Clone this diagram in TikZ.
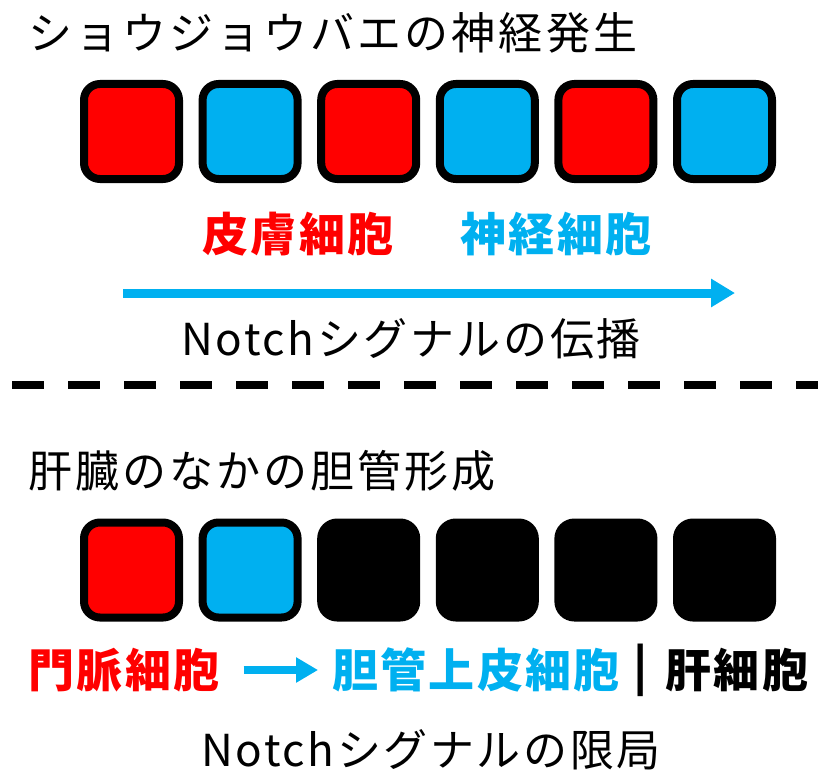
\documentclass[tikz,border=0pt]{standalone}
\usepackage{fontspec}
\setmainfont{Noto Sans CJK JP}
\usetikzlibrary{arrows.meta}
\definecolor{cred}{HTML}{FF0000}
\definecolor{ccyan}{HTML}{00B0F0}
\begin{document}
\begin{tikzpicture}[x=1pt,y=-1pt,
  cellbox/.style={draw=black,line width=8pt,rounded corners=16pt,minimum size=95pt,inner sep=0pt},
  redcell/.style={cellbox,fill=cred},
  cyancell/.style={cellbox,fill=ccyan},
  blackcell/.style={cellbox,fill=black},
  heading/.style={font=\fontsize{44}{48}\selectfont\addfontfeature{LetterSpace=7},inner sep=0pt},
  lbl/.style={font=\fontsize{46}{50}\selectfont\bfseries\addfontfeature{LetterSpace=5},inner sep=0pt},
  caption/.style={font=\fontsize{44}{48}\selectfont\addfontfeature{LetterSpace=6},inner sep=0pt},
  sigarrow/.style={ccyan,line width=9pt,-{Triangle[length=24pt,width=27pt]}}]
\useasboundingbox (0,0) rectangle (818,773);
% top section
\node[heading,anchor=west] (t1) at (28,33) {ショウジョウバエの神経発生};
\node[redcell]  (u1) at (131.5,131.5) {};
\node[cyancell] (u2) at (250.1,131.5) {};
\node[redcell]  (u3) at (368.7,131.5) {};
\node[cyancell] (u4) at (487.3,131.5) {};
\node[redcell]  (u5) at (605.9,131.5) {};
\node[cyancell] (u6) at (724.5,131.5) {};
\node[lbl,text=cred]  (skin) at (298,234) {皮膚細胞};
\node[lbl,text=ccyan] (neuro) at (556,234) {神経細胞};
\coordinate (a1s) at (123,293);
\coordinate (a1e) at (735,293);
\draw[sigarrow] (a1s) -- (a1e);
\node[caption] (c1) at (411,339) {Notchシグナルの伝播};
% separator
\coordinate (d1) at (12,385);
\coordinate (d2) at (818,385);
\draw[line width=8pt,dash pattern=on 32pt off 24pt] (d1) -- (d2);
% bottom section
\node[heading,anchor=west] (t2) at (28,471) {肝臓のなかの胆管形成};
\node[redcell]   (v1) at (131.5,570) {};
\node[cyancell]  (v2) at (250.1,570) {};
\node[blackcell] (v3) at (368.7,570) {};
\node[blackcell] (v4) at (487.3,570) {};
\node[blackcell] (v5) at (605.9,570) {};
\node[blackcell] (v6) at (724.5,570) {};
\node[lbl,text=cred]  (pv) at (124,670) {門脈細胞};
\node[lbl,text=ccyan] (bd) at (476,670) {胆管上皮細胞};
\node[lbl] (bar) at (641,670) {|};
\node[lbl] (hep) at (737,670) {肝細胞};
\draw[ccyan,line width=8pt,-{Triangle[length=22pt,width=24pt]},shorten <=24pt,shorten >=14pt] (pv) -- (bd);
\node[caption] (c2) at (431,750) {Notchシグナルの限局};
\end{tikzpicture}
\end{document}
